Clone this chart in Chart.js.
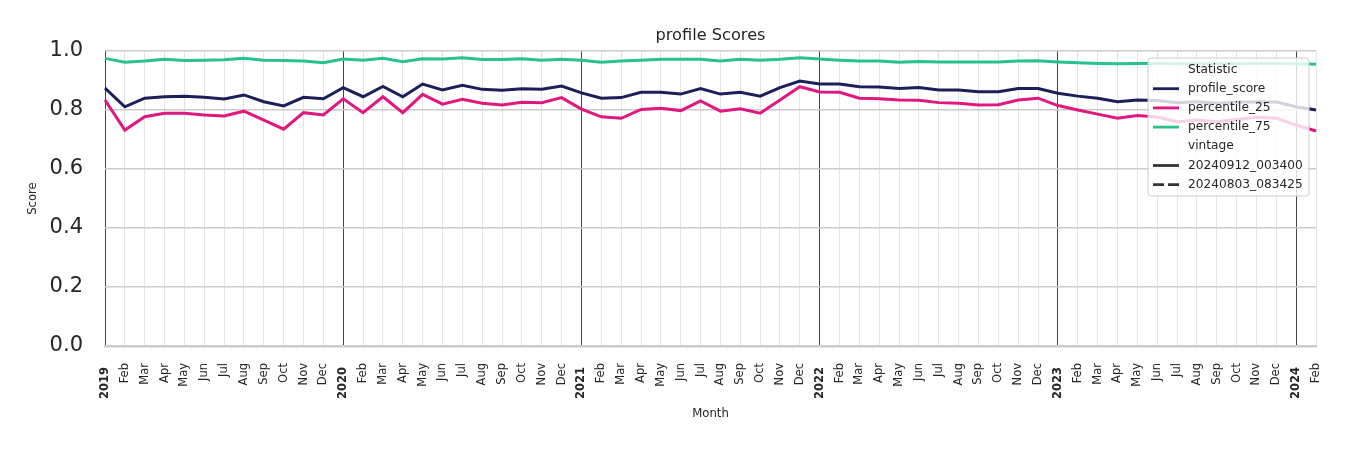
<!DOCTYPE html>
<html>
<head>
<meta charset="utf-8">
<script src="https://cdn.jsdelivr.net/npm/chart.js@4"></script>
<style>
  html, body { margin: 0; padding: 0; background: #fff; }
  #wrap { width: 1350px; height: 450px; }
</style>
</head>
<body>
<div id="wrap"><canvas id="chart"></canvas></div>
<script>
const monthLabels = [
  '2019','Feb','Mar','Apr','May','Jun','Jul','Aug','Sep','Oct','Nov','Dec',
  '2020','Feb','Mar','Apr','May','Jun','Jul','Aug','Sep','Oct','Nov','Dec',
  '2021','Feb','Mar','Apr','May','Jun','Jul','Aug','Sep','Oct','Nov','Dec',
  '2022','Feb','Mar','Apr','May','Jun','Jul','Aug','Sep','Oct','Nov','Dec',
  '2023','Feb','Mar','Apr','May','Jun','Jul','Aug','Sep','Oct','Nov','Dec',
  '2024','Feb'
];

const profileScore = [
  0.874, 0.811, 0.840, 0.845, 0.847, 0.843, 0.837, 0.851, 0.828, 0.814, 0.843, 0.838,
  0.876, 0.845, 0.880, 0.845, 0.888, 0.868, 0.884, 0.870, 0.867, 0.872, 0.870, 0.881,
  0.858, 0.840, 0.842, 0.860, 0.860, 0.854, 0.873, 0.854, 0.860, 0.847, 0.876, 0.898,
  0.888, 0.888, 0.879, 0.878, 0.873, 0.876, 0.868, 0.868, 0.862, 0.862, 0.873, 0.873,
  0.857, 0.847, 0.840, 0.828, 0.834, 0.832, 0.825, 0.828, 0.823, 0.826, 0.828, 0.827,
  0.811, 0.800
];

const percentile25 = [
  0.834, 0.732, 0.777, 0.789, 0.789, 0.783, 0.780, 0.796, 0.766, 0.735, 0.791, 0.783,
  0.838, 0.791, 0.845, 0.791, 0.853, 0.820, 0.836, 0.823, 0.817, 0.826, 0.825, 0.842,
  0.803, 0.777, 0.772, 0.802, 0.806, 0.798, 0.831, 0.796, 0.804, 0.789, 0.834, 0.879,
  0.861, 0.860, 0.840, 0.838, 0.834, 0.833, 0.825, 0.823, 0.817, 0.818, 0.834, 0.840,
  0.815, 0.800, 0.786, 0.772, 0.781, 0.776, 0.760, 0.766, 0.760, 0.768, 0.775, 0.772,
  0.749, 0.729
];

const percentile75 = [
  0.975, 0.962, 0.966, 0.972, 0.968, 0.969, 0.970, 0.975, 0.969, 0.968, 0.966, 0.960,
  0.973, 0.969, 0.975, 0.964, 0.974, 0.973, 0.977, 0.971, 0.971, 0.974, 0.969, 0.972,
  0.969, 0.962, 0.966, 0.969, 0.972, 0.972, 0.972, 0.966, 0.972, 0.969, 0.972, 0.977,
  0.973, 0.969, 0.966, 0.966, 0.962, 0.964, 0.963, 0.963, 0.963, 0.963, 0.966, 0.967,
  0.963, 0.960, 0.958, 0.957, 0.958, 0.958, 0.957, 0.957, 0.957, 0.957, 0.958, 0.958,
  0.957, 0.955
];

const seriesNames = ['profile_score', 'percentile_25', 'percentile_75'];
const seriesColors = ['#1b1f5a', '#e0177f', '#28c28f'];
const vintageNames = ['20240912_003400', '20240803_083425'];
const chartTitle = 'profile Scores';

const FONT = "'DejaVu Sans', sans-serif";
const TEXT = '#262626';

// title centred over the plot area, not the whole canvas
const plotTitle = {
  id: 'plotTitle',
  afterDraw(chart) {
    const ctx = chart.ctx;
    const area = chart.chartArea;
    ctx.save();
    ctx.font = '16.2px ' + FONT;
    ctx.fillStyle = TEXT;
    ctx.textAlign = 'center';
    ctx.textBaseline = 'alphabetic';
    ctx.fillText(chartTitle, (area.left + area.right) / 2, 40);
    ctx.restore();
  }
};

// legend drawn inside the plot, on top of the lines like seaborn does
const boxLegend = {
  id: 'boxLegend',
  afterDraw(chart) {
    const ctx = chart.ctx;
    const area = chart.chartArea;
    const w = 161, h = 138;
    const x0 = area.right - 7 - w;
    const y0 = area.top + 7;
    ctx.save();
    ctx.beginPath();
    ctx.roundRect(x0, y0, w, h, 3);
    ctx.fillStyle = 'rgba(255,255,255,0.8)';
    ctx.fill();
    ctx.strokeStyle = '#cccccc';
    ctx.lineWidth = 1;
    ctx.stroke();

    const rows = [{ text: 'Statistic' }];
    seriesNames.forEach((n, i) => rows.push({ text: n, color: seriesColors[i] }));
    rows.push({ text: 'vintage' });
    vintageNames.forEach((n, i) => rows.push({ text: n, color: '#333333', dash: i === 1 }));

    ctx.font = '12.2px ' + FONT;
    ctx.textBaseline = 'middle';
    ctx.textAlign = 'left';
    rows.forEach((r, i) => {
      const y = y0 + 11.5 + i * 19.2;
      if (r.color) {
        ctx.beginPath();
        ctx.setLineDash(r.dash ? [11, 4] : []);
        ctx.strokeStyle = r.color;
        ctx.lineWidth = 2.8;
        ctx.moveTo(x0 + 5, y);
        ctx.lineTo(x0 + 31, y);
        ctx.stroke();
        ctx.setLineDash([]);
      }
      ctx.fillStyle = TEXT;
      ctx.fillText(r.text, x0 + 40, y);
    });
    ctx.restore();
  }
};

const seriesData = [profileScore, percentile25, percentile75];

new Chart(document.getElementById('chart'), {
  type: 'line',
  data: {
    labels: monthLabels,
    datasets: seriesNames.map((n, i) => ({
      label: n,
      data: seriesData[i],
      borderColor: seriesColors[i],
      backgroundColor: seriesColors[i],
      borderWidth: 3,
      pointRadius: 0,
      tension: 0,
      fill: false
    }))
  },
  options: {
    responsive: true,
    maintainAspectRatio: false,
    animation: false,
    layout: { padding: { left: 0, right: 34, top: 51, bottom: 0 } },
    plugins: {
      legend: { display: false },
      tooltip: { enabled: false },
      title: { display: false }
    },
    scales: {
      x: {
        grid: {
          color: (c) => (c.index % 12 === 0 ? '#444444' : '#e3e3e3'),
          lineWidth: 1,
          drawTicks: false
        },
        border: { display: true, color: '#cccccc', width: 2.5 },
        ticks: {
          autoSkip: false,
          maxRotation: 90,
          minRotation: 90,
          padding: 17,
          color: TEXT,
          // year labels sit a little lower than the month names
          callback: function (v, i) {
            const s = this.getLabelForValue(v);
            return i % 12 === 0 ? s + ' ' : s;
          },
          font: (c) => ({
            family: FONT,
            size: 11.5,
            weight: (c.index % 12 === 0) ? 'bold' : 'normal'
          })
        },
        title: {
          display: true,
          text: 'Month',
          color: TEXT,
          font: { family: FONT, size: 11.7 },
          padding: { top: 0, bottom: 29 }
        },
        afterFit: (s) => { s.height = 104; }
      },
      y: {
        min: 0,
        max: 1,
        ticks: {
          stepSize: 0.2,
          padding: 22,
          color: TEXT,
          font: { family: FONT, size: 21 },
          callback: (v) => v.toFixed(1)
        },
        grid: { color: '#cccccc', lineWidth: 1.5, drawTicks: false },
        border: { display: false },
        title: {
          display: true,
          text: 'Score',
          color: TEXT,
          font: { family: FONT, size: 11.6 },
          padding: { top: 26, bottom: 0 }
        },
        afterFit: (s) => { s.width = 105; }
      }
    }
  },
  plugins: [plotTitle, boxLegend]
});
</script>
</body>
</html>
